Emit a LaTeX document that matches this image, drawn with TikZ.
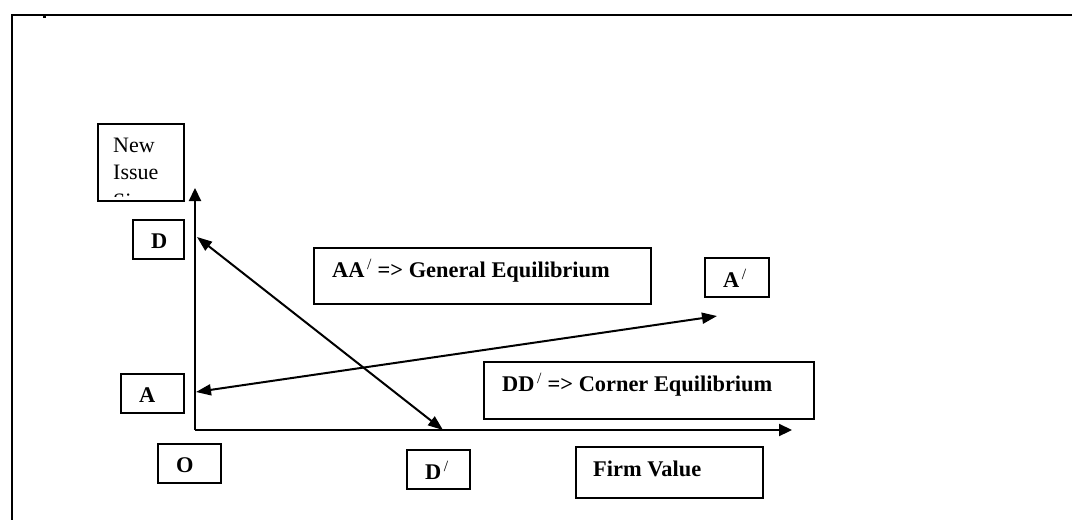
\documentclass[tikz,border=0pt]{standalone}
\usepackage{fontspec}
\setmainfont{Liberation Serif}
\usetikzlibrary{arrows.meta}
\tikzset{
  boxnode/.style={draw, line width=1.6pt, inner sep=0pt, anchor=north west},
  lbl/.style={anchor=base west, inner sep=0pt, font=\fontsize{22.4}{27}\selectfont\bfseries},
  plain/.style={anchor=base west, inner sep=0pt, font=\fontsize{22}{27}\selectfont},
  axis/.style={line width=2.2pt, -{Triangle[length=13pt,width=12pt]}},
  dbl/.style={line width=2pt, {Triangle[length=15pt,width=11pt]}-{Triangle[length=15pt,width=11pt]}},
  frame/.style={line width=2.6pt}
}
\newcommand{\prm}{\textsuperscript{\mdseries\,/}}
\begin{document}
\begin{tikzpicture}[x=1pt,y=-1pt]
\useasboundingbox (0,0) rectangle (1072,520);
\fill[white] (0,0) rectangle (1072,520);
% frame
\coordinate (fTL) at (12,15);
\coordinate (fTR) at (1072,15);
\coordinate (fBL) at (12,520);
\draw[frame] (fTR) -- (fTL) -- (fBL);
\fill (43,15.5) rectangle (45.5,18);
% New Issue box
\node[boxnode, minimum width=86pt, minimum height=77pt] (NI) at (97,123) {};
\begin{scope}
\clip (98,124) rectangle (182,196.5);
\node[plain] (NIt1) at (113,152) {New};
\node[plain] (NIt2) at (113,179) {Issue};
\node[plain] (NIt3) at (113,208) {Size};
\end{scope}
% axes
\coordinate (O) at (195,430);
\coordinate (Ytip) at (195,188);
\coordinate (Xtip) at (792,430);
\draw[axis] (O) -- (Ytip);
\draw[axis] (O) -- (Xtip);
% label boxes
\node[boxnode, minimum width=51pt, minimum height=39pt] (Dbox) at (132,219) {};
\node[lbl] (Dt) at (151,248) {D};
\node[boxnode, minimum width=63pt, minimum height=39pt] (Abox) at (120,373) {};
\node[lbl] (At) at (139,402) {A};
\node[boxnode, minimum width=63pt, minimum height=39pt] (Obox) at (157,443) {};
\node[lbl] (Ot) at (176,472) {O};
\node[boxnode, minimum width=63pt, minimum height=39pt] (Dpbox) at (406,449) {};
\node[lbl] (Dpt) at (425,479) {D\prm};
\node[boxnode, minimum width=187pt, minimum height=51pt] (FVbox) at (575,446) {};
\node[lbl] (FVt) at (593,476) {Firm Value};
\node[boxnode, minimum width=337pt, minimum height=56pt] (AAbox) at (313,247) {};
\node[lbl] (AAt) at (332,277) {AA\prm{} => General Equilibrium};
\node[boxnode, minimum width=330pt, minimum height=57pt] (DDbox) at (483,361) {};
\node[lbl] (DDt) at (502,391) {DD\prm{} => Corner Equilibrium};
\node[boxnode, minimum width=64pt, minimum height=39pt] (Apbox) at (704,257) {};
\node[lbl] (Apt) at (723,287) {A\prm};
% lines
\coordinate (Dpt1) at (197,237);
\coordinate (Dpt2) at (443,430);
\coordinate (Apt1) at (196,392);
\coordinate (Apt2) at (717,316);
\draw[dbl] (Dpt1) -- (Dpt2);
\draw[dbl] (Apt1) -- (Apt2);
\end{tikzpicture}
\end{document}
